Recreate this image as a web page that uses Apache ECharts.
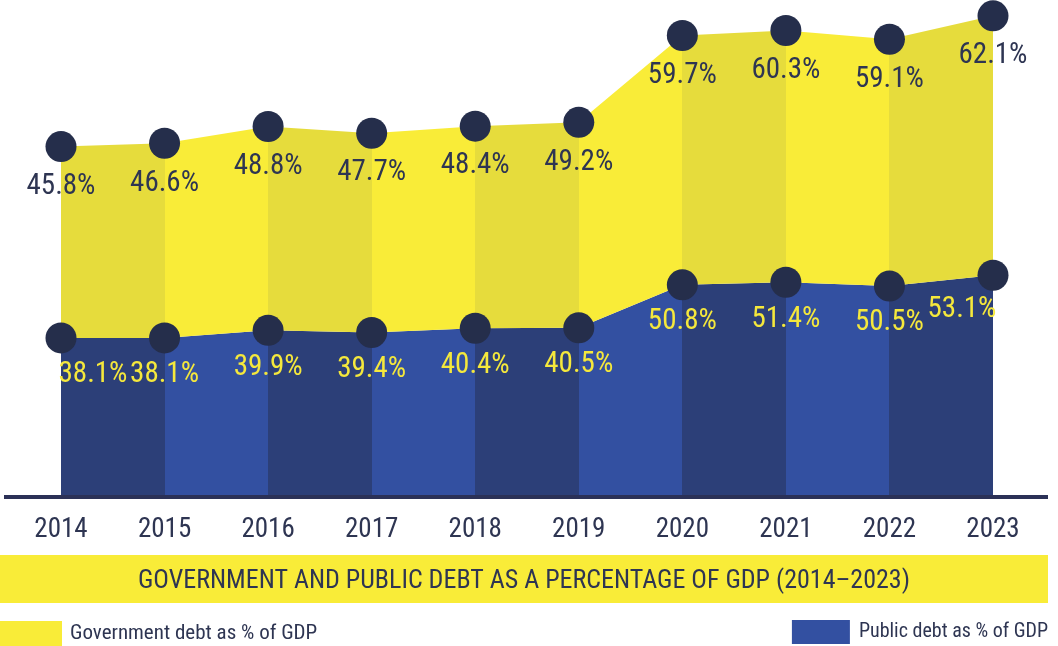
<!DOCTYPE html>
<html><head><meta charset="utf-8">
<script src="https://cdn.jsdelivr.net/npm/echarts@6/dist/echarts.min.js"></script>
<style>html,body{margin:0;padding:0;background:#fff}#c{width:1058px;height:646px}</style>
</head><body><div id="c"></div>
<script>
const years = ['2014','2015','2016','2017','2018','2019','2020','2021','2022','2023'];
const governmentDebt = [45.8,46.6,48.8,47.7,48.4,49.2,59.7,60.3,59.1,62.1];
const publicDebt = [38.1,38.1,39.9,39.4,40.4,40.5,50.8,51.4,50.5,53.1];
const chartTitle = 'GOVERNMENT AND PUBLIC DEBT AS A PERCENTAGE OF GDP (2014–2023)';
const govName = 'Government debt as % of GDP';
const pubName = 'Public debt as % of GDP';

const FONT = "'Roboto Condensed','Liberation Sans Narrow','DejaVu Sans Condensed','Roboto',sans-serif";
const NAVY = '#2e3552';
const DOT = '#252e4b';
const Y_DARK = '#e6dc3c', Y_BRIGHT = '#f9ec38';
const B_DARK = '#2c3f78', B_LIGHT = '#3350a1';

function stripes(c1, c2) {
  const p = [];
  for (let i = 0; i < years.length - 1; i++) {
    const piece = { gte: i, color: i % 2 === 0 ? c1 : c2 };
    if (i === years.length - 2) piece.lte = i + 1; else piece.lt = i + 1;
    p.push(piece);
  }
  return p;
}
const last = years.length - 1;
const pubDotData = publicDebt.map((v, i) =>
  i === 0 ? { value: v, label: { offset: [32, 0] } } :
  i === last ? { value: v, label: { offset: [-31, -2] } } : v);

const chart = echarts.init(document.getElementById('c'));
chart.setOption({
  animation: false,
  backgroundColor: '#fff',
  grid: { left: 61, right: 65, top: 0, bottom: 149, containLabel: false },
  xAxis: {
    type: 'category', data: years, boundaryGap: false,
    axisLine: { show: false }, axisTick: { show: false }, splitLine: { show: false },
    axisLabel: { color: NAVY, fontSize: 27, fontFamily: FONT, margin: 20 }
  },
  yAxis: { type: 'value', min: 0, max: 119, show: false },
  visualMap: [
    { type: 'piecewise', show: false, dimension: 0, seriesIndex: 0, pieces: stripes(B_DARK, B_LIGHT) },
    { type: 'piecewise', show: false, dimension: 0, seriesIndex: 1, pieces: stripes(Y_DARK, Y_BRIGHT) }
  ],
  title: {
    text: chartTitle, left: 519, top: 563, textAlign: 'center',
    textStyle: { color: NAVY, fontSize: 26, fontWeight: 'normal', fontFamily: FONT }
  },
  legend: [
    { left: 0, bottom: 0, padding: 0, itemWidth: 62, itemHeight: 25, icon: 'rect',
      textStyle: { color: NAVY, fontSize: 21, fontFamily: FONT, padding: [0, 0, 0, 3] },
      data: [{ name: govName, itemStyle: { color: Y_BRIGHT } }] },
    { right: 10, bottom: 2, padding: 0, itemWidth: 58, itemHeight: 24, icon: 'rect',
      textStyle: { color: NAVY, fontSize: 20, fontFamily: FONT, padding: [0, 0, 0, 4] },
      data: [{ name: pubName, itemStyle: { color: B_LIGHT } }] }
  ],
  graphic: [
    { type: 'rect', left: 0, top: 555, z: -1, shape: { width: 1048, height: 48 }, style: { fill: '#f9ec38' } },
    { type: 'rect', left: 4, top: 495, z: 100, shape: { width: 1044, height: 4 }, style: { fill: '#2b3157' } }
  ],
  series: [
    { name: pubName, type: 'line', stack: 'area', data: publicDebt, showSymbol: false,
      lineStyle: { width: 0 }, areaStyle: { opacity: 1 }, z: 1 },
    { name: govName, type: 'line', stack: 'area', data: governmentDebt, showSymbol: false,
      lineStyle: { width: 0 }, areaStyle: { opacity: 1 }, z: 1 },
    { name: 'pubDots', type: 'line', stack: 'dots', data: pubDotData, symbol: 'circle', symbolSize: 31,
      lineStyle: { opacity: 0, width: 0 }, itemStyle: { color: DOT }, z: 5,
      label: { show: true, position: 'bottom', distance: 7, formatter: p => p.value + '%',
        color: '#f5e83c', fontSize: 29, fontFamily: FONT } },
    { name: 'govDots', type: 'line', stack: 'dots', data: governmentDebt, symbol: 'circle', symbolSize: 31,
      lineStyle: { opacity: 0, width: 0 }, itemStyle: { color: DOT }, z: 5,
      label: { show: true, position: 'bottom', distance: 10, formatter: p => p.value + '%',
        color: NAVY, fontSize: 29, fontFamily: FONT } }
  ]
});
</script></body></html>
